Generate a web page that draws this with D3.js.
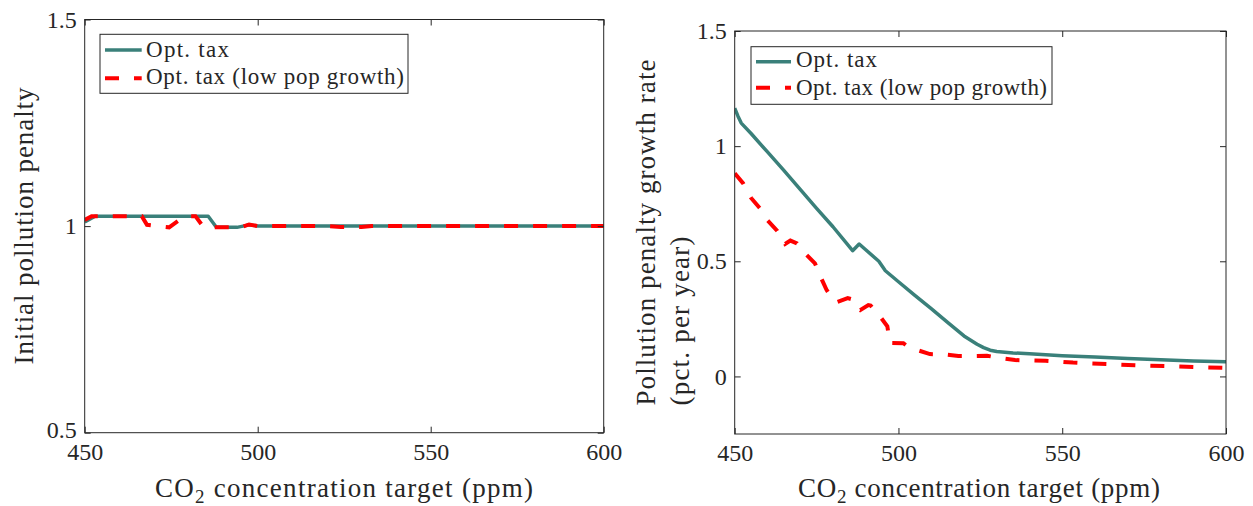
<!DOCTYPE html>
<html><head><meta charset="utf-8">
<script src="https://cdn.jsdelivr.net/npm/d3@7"></script>
<style>
body{margin:0;background:#fff}
svg{display:block}
text{font-family:"Liberation Serif","Times New Roman",serif;fill:#262626}
</style>
</head><body>
<svg id="chart" width="1253" height="506"></svg>
<script>
// ---------- data ----------
const xTickValues = [450, 500, 550, 600];
const leftYTickValues = [0.5, 1, 1.5];
const rightYTickValues = [0, 0.5, 1, 1.5];
const legendLabels = ["Opt. tax", "Opt. tax (low pop growth)"];

// Left panel: initial pollution penalty
const leftOptX = [450, 453, 460, 470, 480, 485.7, 488, 491, 494, 497.5, 500, 510, 520, 530, 540, 550, 560, 570, 580, 590, 600];
const leftOptY = [1.010, 1.024, 1.024, 1.024, 1.024, 1.024, 0.998, 0.997, 0.997, 1.003, 1.000, 1.000, 1.000, 1.000, 1.000, 1.000, 1.000, 1.000, 1.000, 1.000, 1.000];
const leftLowX = [450, 452, 460, 466.5, 468, 471, 474.4, 477.6, 479, 482, 484.3, 490, 495, 497.5, 500, 510, 520, 524, 530, 533, 540, 550, 560, 570, 580, 590, 600];
const leftLowY = [1.015, 1.024, 1.024, 1.024, 1.003, 1.000, 0.997, 1.016, 1.024, 1.024, 0.998, 0.997, 0.997, 1.004, 1.000, 1.000, 1.000, 0.998, 0.998, 1.000, 1.000, 1.000, 1.000, 1.000, 1.000, 1.000, 1.000];

// Right panel: pollution penalty growth rate (pct. per year)
const rightOptX = [450, 451, 452, 455, 460, 465, 470, 475, 480, 486, 488, 490, 494, 496, 500, 505, 510, 515, 520, 524, 526, 528, 530, 535, 540, 550, 560, 570, 580, 590, 600];
const rightOptY = [1.165, 1.13, 1.10, 1.055, 0.975, 0.895, 0.812, 0.73, 0.65, 0.546, 0.575, 0.55, 0.50, 0.459, 0.411, 0.352, 0.294, 0.235, 0.176, 0.14, 0.125, 0.114, 0.108, 0.102, 0.098, 0.090, 0.084, 0.078, 0.072, 0.067, 0.064];
const rightLowX = [450, 452.6, 455, 458, 460, 463, 465.4, 467, 469, 472, 474.5, 476.5, 478, 480, 481, 484.5, 485.5, 486.5, 488.3, 490.8, 491.5, 494.4, 496.6, 497.4, 501.5, 503, 505.6, 509.6, 514.2, 518.3, 522.9, 527, 531.5, 535.6, 544.9, 549.4, 553.3, 557.6, 566.7, 575.3, 583.9, 592.7, 600];
const rightLowY = [0.882, 0.838, 0.775, 0.725, 0.678, 0.632, 0.575, 0.590, 0.578, 0.527, 0.491, 0.424, 0.377, 0.332, 0.322, 0.340, 0.336, 0.305, 0.288, 0.310, 0.308, 0.260, 0.218, 0.145, 0.144, 0.128, 0.115, 0.097, 0.095, 0.089, 0.089, 0.090, 0.079, 0.071, 0.068, 0.064, 0.060, 0.057, 0.052, 0.047, 0.044, 0.040, 0.037];

// ---------- styles ----------
const TEAL = "rgb(58,128,122)";
const RED = "#ff0000";
const AXIS = "#262626";
const SERIF = "'Liberation Serif', 'Times New Roman', serif";

const svg = d3.select("#chart");
svg.append("rect").attr("width", 1253).attr("height", 506).attr("fill", "#fff");

function drawPanel(cfg) {
  const x = d3.scaleLinear().domain([450, 600]).range([cfg.left, cfg.right]);
  const y = d3.scaleLinear().domain(cfg.yDomain).range([cfg.bottom, cfg.top]);
  const g = svg.append("g");
  const clipId = "clip" + cfg.id;
  svg.append("clipPath").attr("id", clipId).append("rect")
    .attr("x", cfg.left).attr("y", cfg.top)
    .attr("width", cfg.right - cfg.left).attr("height", cfg.bottom - cfg.top);

  const line = d3.line().x(d => x(d[0])).y(d => y(d[1]));
  const optData = cfg.optX.map((v, i) => [v, cfg.optY[i]]);
  const lowData = cfg.lowX.map((v, i) => [v, cfg.lowY[i]]);

  const lines = g.append("g").attr("clip-path", `url(#${clipId})`);
  lines.append("path").datum(optData).attr("d", line)
    .attr("fill", "none").attr("stroke", TEAL).attr("stroke-width", 3.5)
    .attr("stroke-linejoin", "round");
  lines.append("path").datum(lowData).attr("d", line)
    .attr("fill", "none").attr("stroke", RED).attr("stroke-width", 4)
    .attr("stroke-dasharray", "14,15");

  const styleAxis = sel => {
    sel.attr("color", AXIS);
    sel.selectAll("text").style("font-family", SERIF).style("font-size", "24px").style("fill", AXIS);
    sel.select(".domain").remove();
  };
  g.append("g").attr("transform", `translate(0,${cfg.bottom})`)
    .call(d3.axisBottom(x).tickValues(xTickValues).tickSizeInner(-6).tickSizeOuter(0).tickPadding(10).tickFormat(d3.format("d")))
    .call(styleAxis);
  g.append("g").attr("transform", `translate(0,${cfg.top})`)
    .call(d3.axisTop(x).tickValues(xTickValues).tickSizeInner(-6).tickSizeOuter(0).tickFormat(""))
    .call(styleAxis);
  const yAxisG = g.append("g").attr("transform", `translate(${cfg.left},0)`)
    .call(d3.axisLeft(y).tickValues(cfg.yTicks).tickSizeInner(-6).tickSizeOuter(0).tickPadding(8).tickFormat(d3.format("")))
    .call(styleAxis);
  if (cfg.liftBottomLabel) {
    yAxisG.selectAll(".tick").filter(d => d === cfg.yDomain[0]).select("text").attr("dy", "0.18em");
  }
  g.append("g").attr("transform", `translate(${cfg.right},0)`)
    .call(d3.axisRight(y).tickValues(cfg.yTicks).tickSizeInner(-6).tickSizeOuter(0).tickFormat(""))
    .call(styleAxis);

  g.append("rect").attr("x", cfg.left).attr("y", cfg.top)
    .attr("width", cfg.right - cfg.left).attr("height", cfg.bottom - cfg.top)
    .attr("fill", "none").attr("stroke", AXIS).attr("stroke-width", 1);

  // legend
  const L = cfg.legend;
  g.append("rect").attr("x", L.x).attr("y", L.y).attr("width", L.w).attr("height", L.h)
    .attr("fill", "#fff").attr("stroke", AXIS).attr("stroke-width", 1);
  g.append("line").attr("x1", L.sx0).attr("x2", L.sx1).attr("y1", L.r1).attr("y2", L.r1)
    .attr("stroke", TEAL).attr("stroke-width", 3.5);
  g.append("line").attr("x1", L.sx0).attr("x2", L.sx1).attr("y1", L.r2).attr("y2", L.r2)
    .attr("stroke", RED).attr("stroke-width", 4).attr("stroke-dasharray", "14,15");
  g.append("text").attr("x", L.tx).attr("y", L.b1).attr("font-size", 23)
    .attr("textLength", L.len1).attr("lengthAdjust", "spacing").text(legendLabels[0]);
  g.append("text").attr("x", L.tx).attr("y", L.b2).attr("font-size", 23)
    .attr("textLength", L.len2).attr("lengthAdjust", "spacing").text(legendLabels[1]);

  // x label
  const xl = g.append("text").attr("x", cfg.xl.cx - cfg.xl.len / 2).attr("y", cfg.xl.base)
    .attr("font-size", 27).attr("textLength", cfg.xl.len).attr("lengthAdjust", "spacing");
  xl.append("tspan").text("CO");
  xl.append("tspan").attr("dy", 6).attr("font-size", 19).text("2");
  xl.append("tspan").attr("dy", -6).text(" concentration target (ppm)");

  // y label(s)
  cfg.yl.forEach(l => {
    g.append("text").attr("transform", `translate(${l.x},${l.y}) rotate(-90)`)
      .attr("text-anchor", l.anchor).attr("font-size", 27)
      .attr("textLength", l.len).attr("lengthAdjust", "spacing").text(l.text);
  });
}

drawPanel({
  id: "L", left: 84.7, right: 603.7, top: 19.5, bottom: 432.7, yDomain: [0.5, 1.5], yTicks: leftYTickValues,
  liftBottomLabel: true,
  optX: leftOptX, optY: leftOptY, lowX: leftLowX, lowY: leftLowY,
  legend: { x: 100, y: 34.3, w: 308, h: 59, sx0: 105, sx1: 141.7, r1: 50, r2: 78.3, tx: 146, b1: 57, b2: 83.5, len1: 83, len2: 258 },
  xl: { cx: 344, base: 497, len: 378 },
  yl: [{ x: 33, y: 226, anchor: "middle", len: 277, text: "Initial pollution penalty" }]
});

drawPanel({
  id: "R", left: 734.7, right: 1226, top: 31, bottom: 434, yDomain: [-0.25, 1.5], yTicks: rightYTickValues,
  liftBottomLabel: false,
  optX: rightOptX, optY: rightOptY, lowX: rightLowX, lowY: rightLowY,
  legend: { x: 751, y: 46.7, w: 301, h: 57.6, sx0: 756, sx1: 791, r1: 61.7, r2: 87.7, tx: 796, b1: 67, b2: 95, len1: 81, len2: 251 },
  xl: { cx: 979, base: 497, len: 362 },
  yl: [{ x: 655, y: 405.5, anchor: "start", len: 346, text: "Pollution penalty growth rate" },
       { x: 689, y: 405.5, anchor: "start", len: 169, text: "(pct. per year)" }]
});
</script>
</body></html>
